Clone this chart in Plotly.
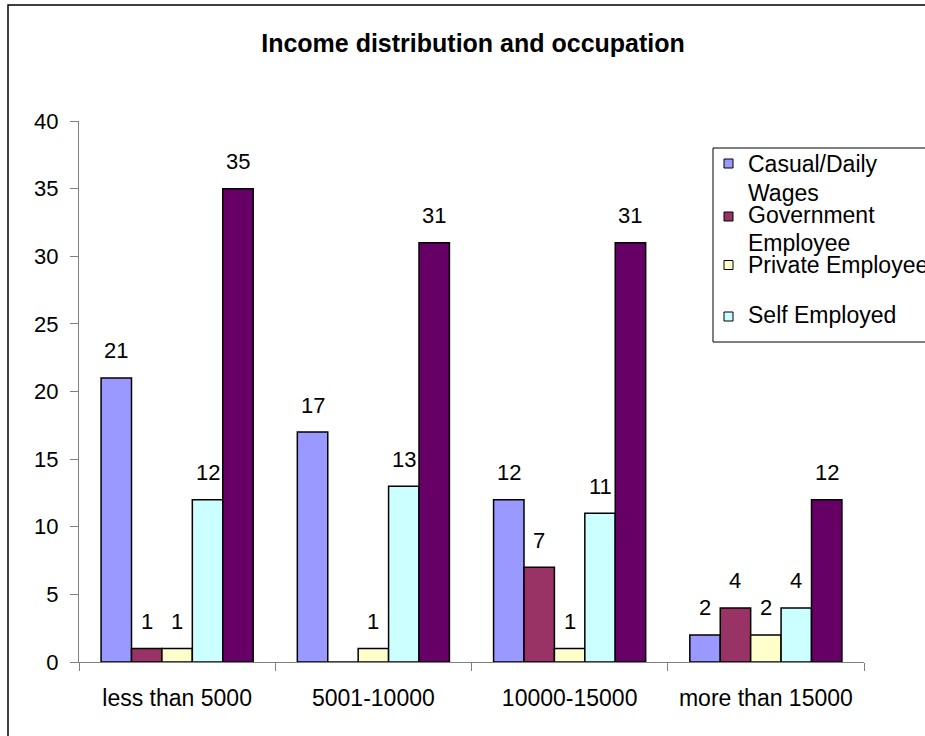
import plotly.graph_objects as go

# Income bands and respondents per occupation
categories = ["less than 5000", "5001-10000", "10000-15000", "more than 15000"]
casual_daily = [21, 17, 12, 2]
government = [1, 0, 7, 4]
private = [1, 1, 1, 2]
self_employed = [12, 13, 11, 4]
total = [35, 31, 31, 12]

series_names = ["Casual/Daily Wages", "Government Employee", "Private Employee",
                "Self Employed", "Total"]
series_values = [casual_daily, government, private, self_employed, total]
series_colors = ["#9999FF", "#993366", "#FFFFCC", "#CCFFFF", "#660066"]

W, H = 925, 736
L, R, T, B = 79, 61, 121, 74
PW, PH = W - L - R, H - T - B
FONT = "Liberation Sans, Arial, sans-serif"
BARGAP = 0.225


def px(x):
    return (x - L) / PW


def py(y):
    return (H - B - y) / PH


fig = go.Figure()
for name, vals, col in zip(series_names, series_values, series_colors):
    fig.add_trace(go.Bar(
        x=categories, y=vals, name=name, showlegend=False,
        marker=dict(color=col, line=dict(color="#000000", width=1.5)),
    ))

# value labels above each non-zero bar
cat_w = PW / len(categories)
bar_w = cat_w * (1 - BARGAP) / len(series_values)
annotations = []
for i, vals in enumerate(series_values):
    for c, v in zip(categories, vals):
        if v == 0:
            continue
        annotations.append(dict(
            x=c, y=v, xref="x", yref="y", text=str(v), showarrow=False,
            xshift=(i - 2) * bar_w, yshift=27, yanchor="middle",
            font=dict(family=FONT, size=22, color="#000000"),
        ))

shapes = [
    # outer frame
    dict(type="rect", xref="paper", yref="paper",
         x0=px(8), x1=px(1000), y0=py(900), y1=py(5),
         line=dict(color="#000000", width=1.5), fillcolor="rgba(0,0,0,0)",
         layer="below"),
    # legend frame
    dict(type="rect", xref="paper", yref="paper",
         x0=px(713), x1=px(1000), y0=py(342), y1=py(148),
         line=dict(color="#000000", width=1), fillcolor="#FFFFFF"),
]

legend_rows = [
    (["Casual/Daily", "Wages"], [164, 193], 163.5),
    (["Government", "Employee"], [215, 243], 216.5),
    (["Private Employee"], [265], 265),
    (["Self Employed"], [315], 316.5),
]
for (lines, ys, sq_y), col in zip(legend_rows, series_colors):
    shapes.append(dict(type="rect", xref="paper", yref="paper",
                       x0=px(724), x1=px(733), y0=py(sq_y + 4.5), y1=py(sq_y - 4.5),
                       line=dict(color="#000000", width=1), fillcolor=col))
    for text, yy in zip(lines, ys):
        annotations.append(dict(
            x=px(746), y=py(yy), xref="paper", yref="paper", text=text,
            showarrow=False, xanchor="left", yanchor="middle",
            font=dict(family=FONT, size=23, color="#000000"),
        ))

fig.update_layout(
    width=W, height=H,
    margin=dict(l=L, r=R, t=T, b=B, pad=0),
    paper_bgcolor="#FFFFFF", plot_bgcolor="#FFFFFF",
    barmode="group", bargap=BARGAP, bargroupgap=0,
    showlegend=False,
    title=dict(text="<b>Income distribution and occupation</b>",
               x=px(473), xanchor="center", y=1 - 43 / H, yanchor="middle",
               xref="paper", yref="container",
               font=dict(family=FONT, size=25, color="#000000")),
    xaxis=dict(
        type="category", tickson="boundaries", ticks="outside", ticklen=8,
        tickcolor="#808080", showline=True, linecolor="#808080", linewidth=1,
        showgrid=False, zeroline=False, ticklabelstandoff=15,
        tickfont=dict(family=FONT, size=23, color="#000000"),
    ),
    yaxis=dict(
        range=[0, 40], dtick=5, ticks="outside", ticklen=8,
        tickcolor="#808080", showline=True, linecolor="#808080", linewidth=1,
        showgrid=False, zeroline=False, ticklabelstandoff=7,
        tickfont=dict(family=FONT, size=22, color="#000000"),
    ),
    shapes=shapes,
    annotations=annotations,
)

fig.write_html("out.html")
